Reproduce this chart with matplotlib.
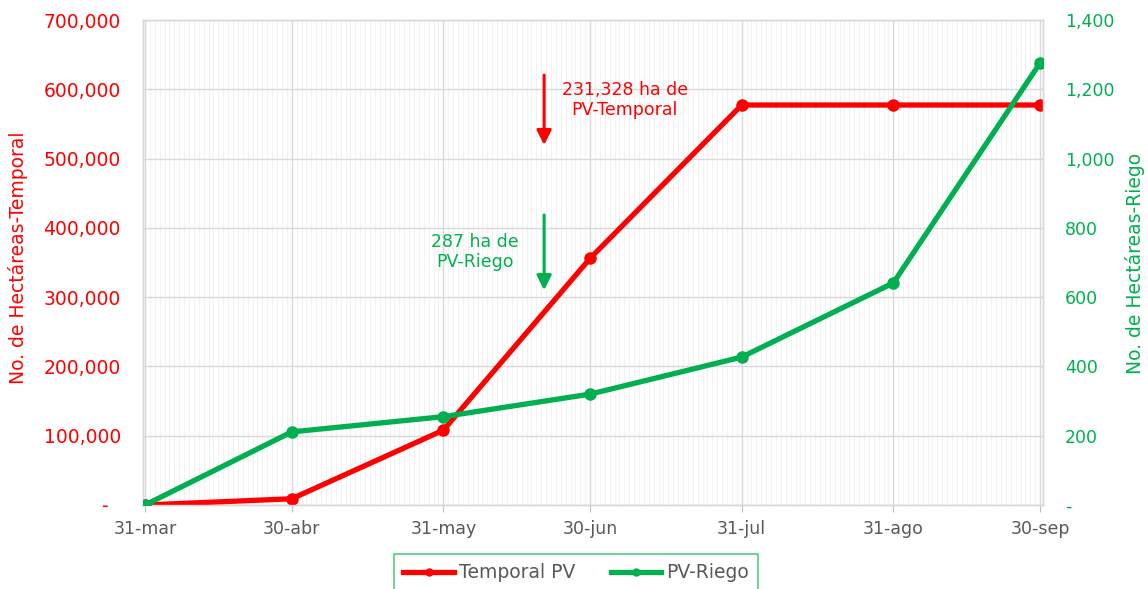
import matplotlib
matplotlib.use('Agg')
import matplotlib.pyplot as plt
import matplotlib.dates as mdates
from matplotlib.lines import Line2D
import numpy as np

# ---- data ----
dates = ['2023-03-31', '2023-04-30', '2023-05-31', '2023-06-30',
         '2023-07-31', '2023-08-31', '2023-09-30']
date_labels = ['31-mar', '30-abr', '31-may', '30-jun', '31-jul', '31-ago', '30-sep']
temporal = [0, 9000, 108000, 356000, 577300, 577300, 577300]
riego = [0, 211, 255, 320, 427, 641, 1276]
left_ticks = [0, 100000, 200000, 300000, 400000, 500000, 600000, 700000]
right_ticks = [0, 200, 400, 600, 800, 1000, 1200, 1400]

RED = '#FF0000'
GREEN = '#00B050'
GRAY = '#595959'
GRID = '#D9D9D9'

plt.rcParams['font.family'] = ['DejaVu Sans']

fig = plt.figure(figsize=(11.48, 5.89), dpi=100)
ax = fig.add_axes([143 / 1148, 1 - 505 / 589, 900 / 1148, 485 / 589])
ax2 = ax.twinx()

x = mdates.date2num(np.array(dates, dtype='datetime64[D]'))

ax.plot(x, temporal, color=RED, lw=3.8, marker='o', ms=8,
        solid_capstyle='round', zorder=3)
ax2.plot(x, riego, color=GREEN, lw=3.8, marker='o', ms=8,
         solid_capstyle='round', zorder=3)

ax.set_xlim(x[0] - 0.41, x[-1] + 0.6)
ax.set_ylim(0, 700000)
ax2.set_ylim(0, 1400)

ax.set_xticks(x)
ax.set_xticklabels(date_labels)
ax.xaxis.set_minor_locator(mdates.DayLocator())

ax.set_yticks(left_ticks)
ax.set_yticklabels(['-  ' if v == 0 else f'{v:,}' for v in left_ticks])
ax2.set_yticks(right_ticks)
ax2.set_yticklabels(['-' if v == 0 else f'{v:,}' for v in right_ticks])

ax.set_axisbelow(True)
ax.grid(which='major', color=GRID, lw=1.0)
ax.grid(which='minor', axis='x', color='#F2F2F2', lw=0.8)
ax2.grid(False)

for a in (ax, ax2):
    for s in a.spines.values():
        s.set_color(GRID)
        s.set_linewidth(1.0)

ax.tick_params(axis='x', which='major', direction='out', length=5, color='#BFBFBF',
               labelcolor=GRAY, labelsize=12.5, pad=6)
ax.tick_params(axis='x', which='minor', length=0)
ax.tick_params(axis='y', length=0, labelcolor=RED, labelsize=13.5, pad=16)
ax2.tick_params(axis='y', length=0, labelcolor=GREEN, labelsize=12.5, pad=16)

fig.text(18 / 1148, 1 - 258 / 589, 'No. de Hectáreas-Temporal', color=RED,
         rotation=90, ha='center', va='center', fontsize=13.5)
fig.text(1135 / 1148, 1 - 263 / 589, 'No. de Hectáreas-Riego', color=GREEN,
         rotation=90, ha='center', va='center', fontsize=13.5)

# annotations
xa = x[0] + 81.6
ax.annotate('', xy=(xa, 519500), xytext=(xa, 620500),
            arrowprops=dict(arrowstyle='-|>', color=RED, lw=2.2,
                            mutation_scale=22, shrinkA=0, shrinkB=0))
ax.text(x[0] + 98.1, 584000, '231,328 ha de\nPV-Temporal', color=RED,
        ha='center', va='center', fontsize=12.5, linespacing=1.15)
ax.annotate('', xy=(xa, 310000), xytext=(xa, 418500),
            arrowprops=dict(arrowstyle='-|>', color=GREEN, lw=2.2,
                            mutation_scale=22, shrinkA=0, shrinkB=0))
ax.text(x[0] + 67.5, 365000, '287 ha de\nPV-Riego', color=GREEN,
        ha='center', va='center', fontsize=12.5, linespacing=1.15)

handles = [Line2D([], [], color=RED, lw=3.8, marker='o', ms=5),
           Line2D([], [], color=GREEN, lw=3.8, marker='o', ms=5)]
leg = fig.legend(handles, ['Temporal PV', 'PV-Riego'], loc='upper center',
                 bbox_to_anchor=(576 / 1148, 1 - 554 / 589), ncol=2,
                 frameon=True, fancybox=False, fontsize=13.5,
                 handlelength=2.7, handletextpad=0.25, columnspacing=1.9,
                 borderpad=0.5, borderaxespad=0)
leg.get_frame().set_edgecolor('#3CC46E')
leg.get_frame().set_linewidth(1.3)
for t in leg.get_texts():
    t.set_color(GRAY)

fig.savefig('out.png', dpi=100)
